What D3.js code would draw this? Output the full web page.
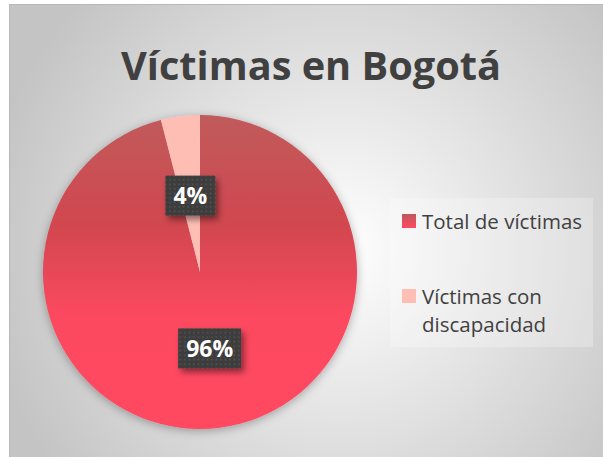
<!DOCTYPE html>
<html>
<head>
<meta charset="utf-8">
<script src="https://cdn.jsdelivr.net/npm/d3@7"></script>
<style>
  body { margin: 0; background: #ffffff; }
  svg { display: block; }
</style>
</head>
<body>
<div id="chart"></div>
<script>
const title = "Víctimas en Bogotá";
const categories = ["Total de víctimas", "Víctimas con discapacidad"];
const values = [96, 4];
const legendLines = [["Total de víctimas"], ["Víctimas con", "discapacidad"]];

(function () {
  const width = 603, height = 457;
  const cx = 200, cy = 272, radius = 157;

  const svg = d3
    .select("#chart")
    .append("svg")
    .attr("width", width)
    .attr("height", height)
    .attr("style", "font-family: 'Open Sans', sans-serif;");

  const defs = svg.append("defs");

  // background radial gradient
  const bg = defs.append("radialGradient")
    .attr("id", "bg")
    .attr("gradientUnits", "userSpaceOnUse")
    .attr("cx", 340).attr("cy", 250).attr("r", 360);
  bg.append("stop").attr("offset", "0%").attr("stop-color", "#ffffff");
  bg.append("stop").attr("offset", "100%").attr("stop-color", "#c4c4c4");

  // red slice gradient (slice coords are relative to pie center)
  const red = defs.append("linearGradient")
    .attr("id", "red")
    .attr("gradientUnits", "userSpaceOnUse")
    .attr("x1", 0).attr("y1", -radius)
    .attr("x2", 0).attr("y2", radius);
  red.append("stop").attr("offset", "0%").attr("stop-color", "#c05b5b");
  red.append("stop").attr("offset", "35%").attr("stop-color", "#d1474f");
  red.append("stop").attr("offset", "65%").attr("stop-color", "#fd4860");
  red.append("stop").attr("offset", "100%").attr("stop-color", "#ff4a61");

  const redSw = defs.append("linearGradient")
    .attr("id", "redsw")
    .attr("x1", 0).attr("y1", 0).attr("x2", 0).attr("y2", 1);
  redSw.append("stop").attr("offset", "0%").attr("stop-color", "#c0585b");
  redSw.append("stop").attr("offset", "100%").attr("stop-color", "#ff4962");

  // shadows
  const sh = defs.append("filter").attr("id", "pieShadow")
    .attr("x", "-20%").attr("y", "-20%").attr("width", "140%").attr("height", "140%");
  sh.append("feDropShadow").attr("dx", 0).attr("dy", 2)
    .attr("stdDeviation", 5).attr("flood-color", "#000").attr("flood-opacity", 0.3);

  const lsh = defs.append("filter").attr("id", "lblShadow")
    .attr("x", "-30%").attr("y", "-30%").attr("width", "160%").attr("height", "170%");
  lsh.append("feDropShadow").attr("dx", 3).attr("dy", 4)
    .attr("stdDeviation", 3).attr("flood-color", "#000").attr("flood-opacity", 0.45);

  // dotted label fill
  const pat = defs.append("pattern")
    .attr("id", "dots")
    .attr("patternUnits", "userSpaceOnUse")
    .attr("width", 4.5).attr("height", 4.5);
  pat.append("rect").attr("width", 4.5).attr("height", 4.5).attr("fill", "#3d3d3d");
  pat.append("rect").attr("x", 1.5).attr("y", 1.5).attr("width", 1.5).attr("height", 1.5)
    .attr("fill", "#575757");

  // chart area
  svg.append("rect")
    .attr("x", 9.5).attr("y", 4.5)
    .attr("width", width - 9).attr("height", height - 4)
    .attr("fill", "url(#bg)")
    .attr("stroke", "#b8b8b8");

  // title
  const t = svg.append("text")
    .attr("x", 311)
    .attr("y", 80)
    .attr("text-anchor", "middle")
    .attr("font-weight", "bold")
    .attr("font-size", "44px")
    .attr("fill", "#404040")
    .text(title);
  const tw = t.node().getComputedTextLength();
  t.attr("font-size", (44 * 380 / tw).toFixed(1) + "px");

  // pie
  const colors = ["url(#red)", "#ffbeb4"];
  const swatches = ["url(#redsw)", "#ffbeb4"];
  const data = categories.map((c, i) => ({ name: c, value: values[i], i }));
  const total = d3.sum(values);

  const pie = d3.pie().sort(null).value((d) => d.value);
  const arc = d3.arc().innerRadius(0).outerRadius(radius);
  const labelArc = d3.arc().innerRadius(77).outerRadius(77);

  const g = svg.append("g").attr("transform", `translate(${cx},${cy})`);

  g.append("g")
    .attr("filter", "url(#pieShadow)")
    .selectAll("path")
    .data(pie(data))
    .join("path")
    .attr("d", arc)
    .attr("fill", (d) => colors[d.data.i]);

  // labels
  const lbl = g.selectAll(".lbl")
    .data(pie(data))
    .join("g")
    .attr("class", "lbl")
    .attr("transform", (d) => `translate(${labelArc.centroid(d)})`);

  lbl.each(function (d) {
    const el = d3.select(this);
    const txt = Math.round((d.data.value / total) * 100) + "%";
    const w = txt.length > 2 ? 63 : 50;
    el.append("rect")
      .attr("x", -w / 2).attr("y", -20)
      .attr("width", w).attr("height", 40)
      .attr("fill", "url(#dots)")
      .attr("filter", "url(#lblShadow)");
    el.append("text")
      .attr("text-anchor", "middle")
      .attr("y", 8.5)
      .attr("font-size", "23px")
      .attr("font-weight", "bold")
      .attr("fill", "#ffffff")
      .text(txt);
  });

  // legend
  const legend = svg.append("g");
  legend.append("rect")
    .attr("x", 390).attr("y", 198)
    .attr("width", 203).attr("height", 149)
    .attr("fill", "#ffffff").attr("opacity", 0.25);

  const rows = [214, 289];
  legendLines.forEach((lines, i) => {
    legend.append("rect")
      .attr("x", 402).attr("y", rows[i])
      .attr("width", 14).attr("height", 14)
      .attr("fill", swatches[i]);
    lines.forEach((ln, j) => {
      legend.append("text")
        .attr("x", 422)
        .attr("y", rows[i] + 15 + j * 28)
        .attr("font-size", "20.5px")
        .attr("fill", "#404040")
        .text(ln);
    });
  });
})();
</script>
</body>
</html>
